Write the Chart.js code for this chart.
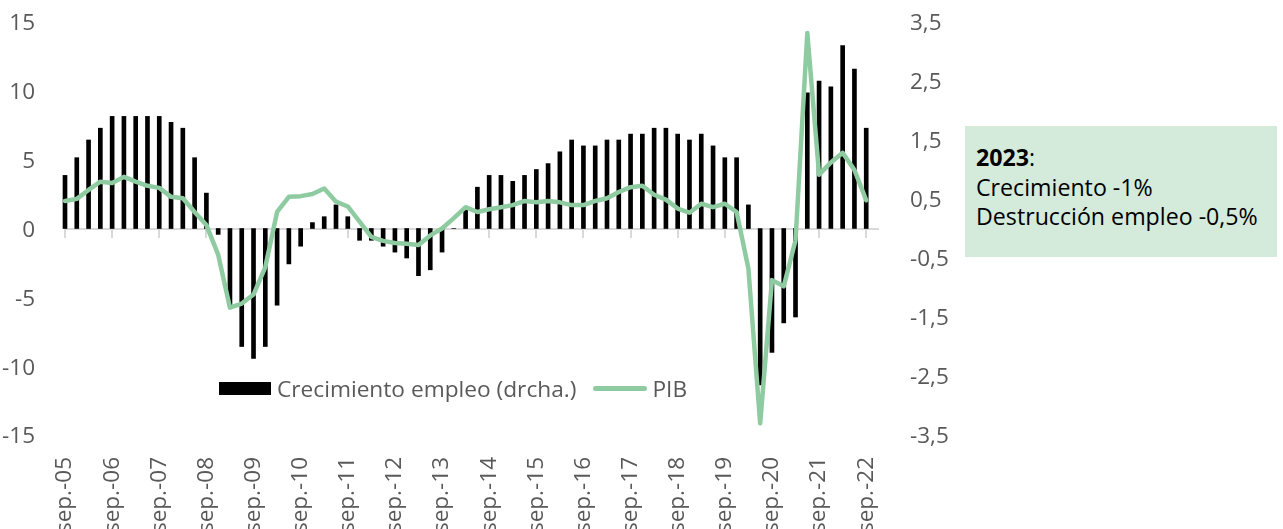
<!DOCTYPE html>
<html>
<head>
<meta charset="utf-8">
<script src="https://cdn.jsdelivr.net/npm/chart.js@4.4.1/dist/chart.umd.min.js"></script>
<style>
  html, body { margin: 0; padding: 0; background: #ffffff; overflow: hidden; }
  #wrap { position: relative; width: 1283px; height: 529px; }
  #wrap canvas { position: absolute; left: 0; top: 0; }
  #legend { position: absolute; left: 219px; top: 373px; height: 30px; display: flex; align-items: center;
            font-family: 'Open Sans', sans-serif; font-size: 22.7px; color: #595959; white-space: nowrap; }
  .sw-bar { width: 52px; height: 13px; background: #000; margin-right: 6px; }
  .sw-line { width: 54px; height: 5px; border-radius: 3px; background: #8ecba1; margin-left: 17px; margin-right: 5px; }
  #note { position: absolute; left: 965px; top: 126px; width: 312px; height: 131px; background: #d4eadb;
          font-family: 'Open Sans', sans-serif; font-size: 23.2px; color: #000; box-sizing: border-box;
          padding: 17px 0 0 11px; line-height: 29.5px; white-space: nowrap; }
</style>
</head>
<body>
<div id="wrap">
  <canvas id="c" width="1283" height="529"></canvas>
  <div id="legend"></div>
  <div id="note"><b>2023</b>:<br>Crecimiento -1%<br>Destrucción empleo -0,5%</div>
</div>
<script>
// ---- data ----
const quarterMonths = ['sep.', 'dic.', 'mar.', 'jun.'];
const firstYear = 2005;
const nCategories = 70; // sep.-05 ... dic.-22 (last one empty)

const tickLabels = ['sep.-05','sep.-06','sep.-07','sep.-08','sep.-09','sep.-10','sep.-11','sep.-12','sep.-13',
                    'sep.-14','sep.-15','sep.-16','sep.-17','sep.-18','sep.-19','sep.-20','sep.-21','sep.-22'];

// Crecimiento empleo (right axis)
const empleo = [0.9, 1.2, 1.5, 1.7, 1.9, 1.9, 1.9, 1.9, 1.9, 1.8, 1.7, 1.2,
                0.6, -0.1, -1.3, -2.0, -2.2, -2.0, -1.3, -0.6, -0.3, 0.1, 0.2, 0.4,
                0.2, -0.2, -0.2, -0.3, -0.4, -0.5, -0.8, -0.7, -0.4, 0.0, 0.35, 0.7,
                0.9, 0.9, 0.8, 0.9, 1.0, 1.1, 1.3, 1.5, 1.4, 1.4, 1.5, 1.5,
                1.6, 1.6, 1.7, 1.7, 1.6, 1.5, 1.6, 1.4, 1.2, 1.2, 0.4, -2.65,
                -2.1, -1.6, -1.5, 2.3, 2.5, 2.4, 3.1, 2.7, 1.7];

// PIB (left axis)
const pib = [2.0, 2.15, 2.8, 3.4, 3.3, 3.75, 3.4, 3.1, 2.95, 2.3, 2.2, 1.2,
             0.25, -1.9, -5.75, -5.45, -4.8, -2.8, 1.2, 2.3, 2.35, 2.5, 2.9, 1.95,
             1.6, 0.5, -0.6, -0.9, -1.05, -1.1, -1.2, -0.5, 0.0, 0.75, 1.55, 1.2,
             1.4, 1.55, 1.7, 2.0, 1.9, 2.0, 1.9, 1.7, 1.7, 2.0, 2.2, 2.65,
             3.0, 3.1, 2.45, 2.1, 1.45, 1.15, 1.8, 1.55, 1.8, 1.2, -2.9, -14.15,
             -3.75, -4.2, -0.85, 14.2, 3.9, 4.8, 5.5, 4.25, 2.05];

const seriesNames = ['Crecimiento empleo (drcha.)', 'PIB'];

// ---- categories built from the tick labels ----
const categories = [];
for (let i = 0; i < nCategories; i++) {
  if (i % 4 === 0 && tickLabels[i / 4]) { categories.push(tickLabels[i / 4]); continue; }
  const yy = (firstYear + Math.floor((i + 2) / 4)) % 100;
  categories.push(quarterMonths[i % 4] + '-' + String(yy).padStart(2, '0'));
}

const GRAY = '#595959';
const GRID = '#d9d9d9';
const GREEN = '#8ecba1';

Chart.defaults.font.family = "'Open Sans', sans-serif";
Chart.defaults.font.size = 22.5;
Chart.defaults.color = GRAY;

const fmtComma = v => (Math.round(v * 10) / 10).toFixed(1).replace('.', ',');
const noPad = s => { s.paddingTop = 0; s.paddingBottom = 0; s.paddingLeft = 0; s.paddingRight = 0; };

const chart = new Chart(document.getElementById('c'), {
  data: {
    labels: categories,
    datasets: [
      { type: 'line', label: seriesNames[1], data: pib, yAxisID: 'y', order: 0,
        borderColor: GREEN, backgroundColor: GREEN, borderWidth: 4.5, pointRadius: 0,
        tension: 0, borderJoinStyle: 'round', borderCapStyle: 'round', clip: false },
      { type: 'bar', label: seriesNames[0], data: empleo, yAxisID: 'y1', order: 1,
        backgroundColor: '#000000', barThickness: 4, clip: false }
    ]
  },
  options: {
    responsive: false,
    animation: false,
    devicePixelRatio: 1,
    layout: { padding: { top: 22, left: 0, right: 0, bottom: 0 } },
    plugins: { legend: { display: false }, tooltip: { enabled: false } },
    scales: {
      x: {
        type: 'category', position: 'bottom', offset: false,
        grid: { display: false }, border: { display: false },
        ticks: { autoSkip: false, minRotation: 90, maxRotation: 90, padding: 14,
                 callback: function(v, i) { return i % 4 === 0 ? this.getLabelForValue(v) : ''; } },
        afterFit: s => { s.height = 94; noPad(s); }
      },
      x2: {
        type: 'category', position: { y: 0 }, offset: false,
        border: { display: true, color: GRID, width: 2 },
        grid: { drawOnChartArea: false, drawTicks: true, tickLength: 8, lineWidth: 2,
                color: ctx => (ctx.index % 4 === 0 ? GRID : 'rgba(0,0,0,0)') },
        ticks: { display: false, autoSkip: false },
        afterFit: s => { noPad(s); }
      },
      y: {
        position: 'left', min: -15, max: 15,
        grid: { display: false }, border: { display: false },
        ticks: { stepSize: 5, padding: 22, labelOffset: 2 },
        afterFit: s => { s.width = 65; noPad(s); }
      },
      y1: {
        position: 'right', min: -3.5, max: 3.5,
        grid: { display: false }, border: { display: false },
        ticks: { stepSize: 1, padding: 24, labelOffset: 2, callback: v => fmtComma(v) },
        afterFit: s => { s.width = 405; noPad(s); }
      }
    }
  }
});

// HTML legend from the chart's datasets
const legend = document.getElementById('legend');
const barDs = chart.data.datasets[1], lineDs = chart.data.datasets[0];
legend.innerHTML = '<span class="sw-bar"></span><span>' + barDs.label + '</span>' +
                   '<span class="sw-line"></span><span>' + lineDs.label + '</span>';
</script>
</body>
</html>
